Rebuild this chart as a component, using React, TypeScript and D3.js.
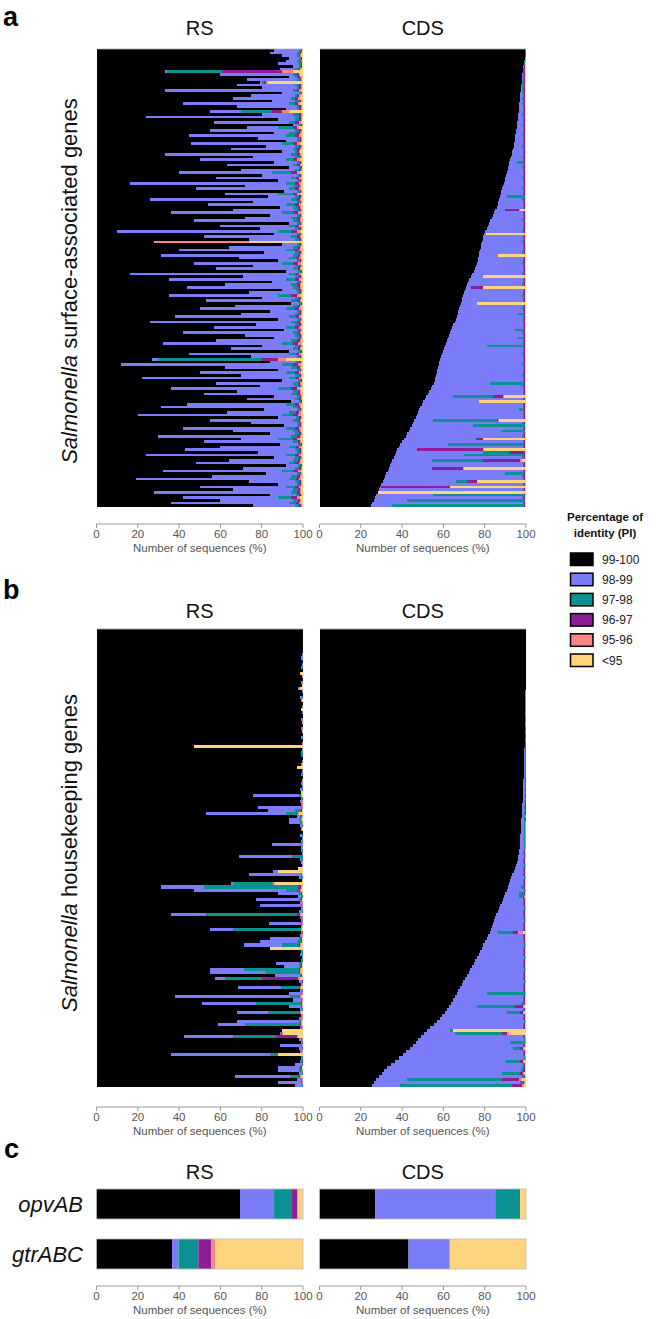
import React from 'react';
import * as d3 from 'd3';

// ---------- categories / colours ----------
const KEYS = ['99-100', '98-99', '97-98', '96-97', '95-96', '<95'];
const COLORS = ['#000000', '#7a7cf8', '#0b9191', '#8c1f95', '#f88484', '#fed47e'];
const TICKS = [0, 20, 40, 60, 80, 100];

// Each row: cumulative right edges (%) of 99-100, 98-99, 97-98, 96-97, 95-96; <95 fills to 100.
// Missing trailing values repeat the last one given.
const rsA: number[][] = [
  [86,98,99,99.5,99.7],[84,97,98.5,99,99.5],[90,97,98,98.5,99],[93,98,99,99.3,99.6],[92,97,98.5,99,99.4],
  [88,97.5,99,99.3,99.6],[95,98,99,99.3,99.6],[89,96,98,98.5,99],[33,34,61,90,95],[60,95,97,98,98.5],
  [93,96,97.5,98.5,99.5],[73,97,98.5,99,99.5],[79,80,81,82,83],[68,96,98,99,99.5],[80,97,98,99,99.5],
  [33,95,97,98,99],[90,98,99,99.5,99.7],[75,96,97,98,99],[66,94,96,97.5,98.5],[85,96,98,99,99.5],
  [42,93,96,97.5,98.5],[68,97,98,99,99.5],[92,97,98.5,99,99.5],[55,70,85,90,93],[80,95,98,99,99.5],
  [24,96,98,99,99.5],[88,96,98,99,99.5],[57,93,96,98,99],[95,98,99,99.5,99.8],[73,88,95,97,98],
  [55,96,98,99,99.5],[86,93,97,98.5,99],[45,92,96,98,99],[78,97,98.5,99,99.5],[92,97,98.5,99,99.5],
  [46,90,95,97,98.5],[82,96,98,99,99.4],[65,95,97,98.5,99],[90,96,97,98,98.5],[33,94,97,98.5,99],
  [76,96,98.5,99,99.5],[50,92,95,97,98.5],[86,97,98.5,99,99.5],[63,95,97,98.5,99.2],[93,98,99,99.4,99.7],
  [70,96,98,99,99.5],[40,85,94,97,98.5],[80,97,98.5,99,99.5],[58,94,96.5,98,99],[88,97,98.5,99.2,99.6],
  [16,92,96,98,99],[72,95,97.5,98.5,99.2],[48,93,96,98,99],[91,97,98.5,99,99.5],[62,88,95,97,98.5],
  [83,96,98,99,99.4],[26,94,97,98.5,99.2],[76,97,98.5,99,99.5],[54,92,96,98,99],[89,95,97.5,98.5,99.2],
  [66,96,98,99,99.5],[36,90,95,97.5,98.8],[84,97,98.5,99.2,99.6],[72,94,97,98.5,99.2],[47,95,97.5,98.5,99.2],
  [93,97,98.5,99,99.5],[60,93,96,98,99],[79,96,98,99,99.4],[10,88,94,97,98.5],[86,97,98.5,99.2,99.6],
  [52,94,97,98.5,99.2],[74,96,98,99,99.5],[28,28,28,28,74],[90,97,98.5,99,99.5],[64,95,97.5,98.5,99.2],
  [40,92,96,98,99],[81,96,98,99,99.5],[31,95,97.5,98.5,99.2],[69,93,96.5,98,99],[88,97,98.5,99.2,99.6],
  [47,90,95,97.5,98.8],[76,96,98,99,99.5],[58,95,97.5,98.5,99.2],[92,97.5,98.8,99.3,99.6],[16,93,96.5,98,99],
  [71,96,98,99,99.5],[35,92,96,98,99],[85,97,98.5,99.2,99.6],[62,94,97,98.5,99.2],[44,95,97.5,98.5,99.2],
  [90,96.5,98,99,99.5],[74,97,98.5,99.2,99.6],[35,88,94,97,98.5],[80,96,98,99,99.4],[53,94,97,98.5,99.2],
  [94,98,99,99.4,99.7],[67,95,97.5,98.5,99.2],[50,92,96,98,99],[84,97,98.5,99,99.5],[70,96,98,99,99.5],
  [38,93,96.5,98,99],[88,97,98.5,99.2,99.6],[26,94,97,98.5,99.2],[77,96,98,99,99.5],[57,92,96,98,99],
  [91,97,98.5,99.2,99.6],[42,95,97.5,98.5,99.2],[72,96,98,99,99.5],[86,97,98.5,99,99.5],[58,94,97,98.5,99.2],
  [32,90,95,97.5,98.8],[80,96,98,99,99.5],[65,95,97.5,98.5,99.2],[93,97.5,98.8,99.3,99.6],[45,93,96.5,98,99],
  [75,97,98.5,99.2,99.6],[27,30,80,88,92],[84,96,98,99,99.5],[12,90,95,97.5,98.8],[62,94,97,98.5,99.2],
  [88,97,98.5,99.2,99.6],[50,92,96,98,99],[70,96,98,99,99.5],[22,93,96.5,98,99],[90,97.5,98.8,99.3,99.6],
  [58,95,97.5,98.5,99.2],[79,96,98,99,99.5],[36,88,94,97,98.5],[68,95,97.5,98.5,99.2],[52,94,97,98.5,99.2],
  [86,97,98.5,99.2,99.6],[73,96,98,99,99.5],[94,98,99,99.4,99.7],[44,92,96,98,99],[31,95,97.5,98.5,99.2],
  [81,97,98.5,99,99.5],[63,93,96.5,98,99],[20,90,95,97.5,98.8],[88,96.5,98,99,99.5],[55,95,97.5,98.5,99.2],
  [75,97,98.5,99.2,99.6],[91,97,98.5,99,99.5],[42,92,96,98,99],[66,95,97.5,98.5,99.2],[84,96,98,99,99.5],
  [30,94,97,98.5,99.2],[70,88,95,97,98.5],[52,95,97.5,98.5,99.2],[89,97.5,98.8,99.3,99.6],[60,93,96.5,98,99],
  [43,96,98,99,99.5],[78,97,98.5,99.2,99.6],[24,92,96,98,99],[86,96,98,99,99.5],[64,95,97.5,98.5,99.2],
  [48,93,96,98,99],[92,97.5,98.8,99.3,99.6],[71,96,98,99,99.5],[32,90,95,97.5,98.8],[82,97,98.5,99.2,99.6],
  [56,94,97,98.5,99.2],[19,93,96.5,98,99],[74,96,98,99,99.5],[88,97,98.5,99,99.5],[50,92,96,98,99],
  [66,95,97.5,98.5,99.2],[28,94,97,98.5,99.2],[84,96.5,98,99,99.5],[42,88,94,97,98.5],[60,95,97.5,98.5,99.2],
  [36,93,96.5,98,99],[76,96,98,99,99.5],
];

const cdsA: number[][] = [
  [99.7,99.7,99.8,99.9,99.9],[99.6,99.6,99.7,99.8,99.9],[99.5,99.5,99.6,99.8,99.9],[99.3,99.3,99.5,99.7,99.8],[99.1,99.1,99.4,99.6,99.8],
  [98.9,98.9,99.3,99.5,99.7],[98.7,98.8,99.2,99.5,99.7],[98.6,98.7,99.1,99.4,99.6],[98.4,98.6,99.0,99.4,99.6],[98.3,98.5,99.1,99.4,99.6],
  [98.2,98.4,99.0,99.3,99.6],[98.1,98.4,99.1,99.4,99.7],[97.9,98.3,98.9,99.3,99.6],[97.8,98.3,99.0,99.4,99.6],[97.6,98.2,98.9,99.3,99.6],
  [97.5,98.3,99.0,99.4,99.7],[97.3,98.2,98.9,99.3,99.6],[97.2,98.4,99.1,99.4,99.6],[97.0,98.3,99.0,99.3,99.6],[96.9,98.4,99.0,99.4,99.7],
  [96.8,98.3,98.9,99.3,99.6],[96.6,98.5,99.1,99.4,99.6],[96.5,98.4,99.0,99.3,99.6],[96.4,98.5,99.1,99.4,99.7],[96.2,98.3,98.9,99.3,99.6],
  [96.1,98.6,99.1,99.4,99.6],[95.9,98.4,99.0,99.3,99.6],[95.7,98.5,99.1,99.4,99.7],[95.6,98.3,98.9,99.3,99.6],[95.4,98.6,99.1,99.4,99.6],
  [95.2,98.4,99.0,99.3,99.6],[95.1,98.5,99.1,99.4,99.7],[94.9,98.3,99.0,99.3,99.6],[94.8,98.6,99.1,99.4,99.6],[94.6,98.4,99.0,99.3,99.6],
  [94.3,98.5,99.1,99.4,99.7],[94.0,98.3,98.9,99.3,99.6],[93.7,98.6,99.1,99.4,99.6],[93.4,98.4,99.0,99.3,99.6],[93.0,98.5,99.1,99.4,99.7],
  [92.7,98.3,99.0,99.3,99.6],[92.4,98.6,99.1,99.4,99.6],[92.0,95.6,99.2,99.4,99.6],[91.7,98.5,99.1,99.4,99.7],[91.4,98.3,99.0,99.3,99.6],
  [91.1,98.6,99.1,99.4,99.6],[90.8,98.4,99.0,99.3,99.6],[90.4,98.5,99.1,99.4,99.7],[90.0,98.3,98.9,99.3,99.6],[89.6,98.6,99.1,99.4,99.6],
  [89.3,98.4,99.0,99.3,99.6],[88.9,98.5,99.1,99.4,99.7],[88.5,98.3,99.0,99.3,99.6],[88.1,98.6,99.1,99.4,99.6],[87.8,98.4,99.0,99.3,99.6],
  [87.4,90.8,99.3,99.5,99.7],[87.0,98.3,98.9,99.3,99.6],[86.6,98.6,99.1,99.4,99.6],[86.2,98.4,99.0,99.3,99.6],[85.8,98.5,99.1,99.4,99.7],
  [85.2,89.9,89.9,96.5,97.0],[84.6,98.6,99.1,99.4,99.6],[84.0,98.4,99.0,99.3,99.6],[83.4,98.5,99.1,99.4,99.7],[82.8,98.3,99.0,99.3,99.6],
  [82.2,98.6,99.1,99.4,99.6],[81.5,98.4,99.0,99.3,99.6],[80.9,98.5,99.1,99.4,99.7],[80.3,98.3,98.9,99.3,99.6],[79.8,80.7,80.7,80.7,80.7],
  [79.4,98.4,99.0,99.3,99.6],[79.0,98.5,99.1,99.4,99.7],[78.7,98.3,99.0,99.3,99.6],[78.3,98.6,99.1,99.4,99.6],[78.0,98.4,99.0,99.3,99.6],
  [77.7,98.5,99.1,99.4,99.7],[77.4,98.3,98.9,99.3,99.6],[77.1,86.5,86.5,86.5,86.5],[76.9,98.4,99.0,99.3,99.6],[76.6,98.5,99.1,99.4,99.7],
  [76.3,98.3,99.0,99.3,99.6],[76.0,98.6,99.1,99.4,99.6],[75.4,98.4,99.0,99.3,99.6],[74.7,98.5,99.1,99.4,99.7],[74.0,98.3,98.9,99.3,99.6],
  [73.3,79.2,79.2,79.2,79.2],[72.6,98.4,99.0,99.3,99.6],[71.8,98.5,99.1,99.4,99.7],[71.2,98.3,99.0,99.3,99.6],[70.8,73.4,73.4,79.2,79.2],
  [70.4,98.4,99.0,99.3,99.6],[70.0,98.5,99.1,99.4,99.7],[69.6,98.3,98.9,99.3,99.6],[69.2,98.6,99.1,99.4,99.6],[68.8,98.4,99.0,99.3,99.6],
  [68.4,76.3,76.3,76.3,76.3],[68.0,98.5,99.1,99.4,99.7],[67.6,98.3,99.0,99.3,99.6],[67.3,98.6,99.1,99.4,99.6],[66.9,96.0,99.0,99.3,99.6],
  [66.6,98.5,99.1,99.4,99.7],[66.0,98.3,98.9,99.3,99.6],[65.4,98.6,99.1,99.4,99.6],[64.8,98.4,99.0,99.3,99.6],[64.2,98.5,99.1,99.4,99.7],
  [63.6,94.7,99.0,99.3,99.6],[63.0,98.3,99.0,99.3,99.6],[62.5,98.6,99.1,99.4,99.6],[62.1,96.0,99.0,99.4,99.7],[61.6,98.5,99.1,99.4,99.7],
  [61.1,98.3,98.9,99.3,99.6],[60.6,81.0,99.2,99.5,99.7],[60.1,98.4,99.0,99.3,99.6],[59.7,98.5,99.1,99.4,99.7],[59.3,98.3,99.0,99.3,99.6],
  [58.9,98.6,99.1,99.4,99.6],[58.5,98.4,99.0,99.3,99.6],[58.1,98.5,99.1,99.4,99.7],[57.7,98.3,98.9,99.3,99.6],[57.4,98.6,99.1,99.4,99.6],
  [57.0,98.4,99.0,99.3,99.6],[56.7,98.5,99.1,99.4,99.7],[56.4,98.3,99.0,99.3,99.6],[56.1,98.6,99.1,99.4,99.6],[55.8,98.4,99.0,99.3,99.6],
  [55.4,82.6,99.1,99.4,99.7],[54.6,98.3,98.9,99.3,99.6],[53.8,98.6,99.1,99.4,99.6],[53.1,98.4,99.0,99.3,99.6],[52.4,98.5,99.1,99.4,99.7],
  [51.7,64.7,84.0,88.8,89.5],[51.0,98.6,99.1,99.4,99.6],[50.3,77.3,77.3,77.3,77.3],[49.6,98.4,99.0,99.3,99.6],[48.9,98.5,99.1,99.4,99.7],
  [48.2,96.5,99.0,99.3,99.6],[47.6,98.6,99.1,99.4,99.6],[47.1,98.4,99.0,99.3,99.6],[46.7,98.5,99.1,99.4,99.7],[46.0,55.0,86.0,86.5,87.0],
  [45.3,98.3,99.0,99.3,99.6],[44.7,74.4,99.3,99.5,99.7],[44.0,98.4,99.0,99.3,99.6],[43.3,88.0,99.3,99.5,99.7],[42.6,98.5,99.1,99.4,99.7],
  [41.7,98.3,98.9,99.3,99.6],[40.8,75.8,75.8,79.2,79.2],[39.9,98.6,99.1,99.4,99.6],[39.1,62.0,99.2,99.5,99.7],[38.3,98.4,99.0,99.3,99.6],
  [37.6,47.3,47.3,79.2,79.5],[37.0,79.2,92.0,99.4,99.7],[36.5,70.0,99.2,99.5,99.7],[35.9,98.3,99.0,99.3,99.6],[35.3,54.6,79.0,97.0,98.0],
  [34.8,98.6,99.1,99.4,99.6],[34.2,98.4,99.0,99.3,99.6],[33.6,54.6,54.6,69.6,70.0],[33.0,98.5,99.1,99.4,99.7],[32.4,90.0,99.2,99.5,99.7],
  [31.8,98.3,98.9,99.3,99.6],[31.2,98.6,99.1,99.4,99.6],[30.6,66.0,71.5,76.3,76.3],[30.0,98.4,99.0,99.3,99.6],[29.4,30.0,30.0,63.3,63.3],
  [28.8,98.5,99.1,99.4,99.7],[28.2,28.2,28.2,28.2,28.2],[27.6,55.0,99.2,99.5,99.7],[27.0,98.3,99.0,99.3,99.6],[26.3,42.5,99.3,99.5,99.7],
  [25.6,98.6,99.1,99.4,99.6],[25.0,35.0,99.0,99.4,99.7],
];

const rsB: number[][] = [
  [100],[100],[100],[100],[100],[100],[100],[100],[99.5,99.8],[99.2,99.8],
  [100],[99.5,100],[99,99.7,100],[100],[98.5,98.5],[99.5,99.7,99.7,99.7,100],[100],[99,99.8,100],[99.6,99.6],[97.4,98,98,98,98.5],
  [99.3,100],[100],[98.5,99.7,100],[99,99.5],[100],[99.3,100],[98.8,98.8],[99.5,100],[100],[99.2,99.8,100],
  [99.6,99.6,99.6,99.6,100],[100],[99,100],[99.5,99.5],[100],[99.2,99.7,100],[100],[99.4,99.4,99.4,99.4,100],[47,47,47,47,47],[99.5,100],
  [99,99.5,100],[98.8,99.2,100],[100],[99.3,100],[99,99.6],[97,97.2,97.2,97.2,97.2],[99.5,100],[99.2,99.6,100],[100],[99.4,99.4,99.4,99.4,100],
  [99,99.8,100],[99.5,100],[98.7,99.5,100],[99.2,99.2],[76,98,99,99,99.5],[99,99.6,100],[98.5,99.3,99.6,99.6,100],[99,99.3,99.3,99.3,100],[78,99,99.5,99.5,100],[83,96,99,99.3,99.6],
  [53,92,97.5,97.5,98],[97,98.5,99.5,99.5,100],[93,98,99,99,99.5],[93,98.5,99.5,99.5,100],[98.5,99.5,100],[99,99.7],[100],[98.5,99.5,99.8,99.8,100],[99.3,100],[99,99.7,100],
  [85,99,99.5,99.5,100],[99.2,99.8],[98.8,99.6,100],[99.5,100],[69,94.7,100],[98.5,99.2,100],[99,99.6,99.6,99.6,100],[99.5,100],[97.5,97.5],[85.5,88,88,88,88],
  [74,99,99.5,99.5,99.7],[98,99,100],[99.3,99.3],[65,66.7,85.5,85.5,86.5],[31,52,97.5,99,99.5],[47,92,97.5,98.5,99],[88,98,99,99.5,99.7],[97.5,99,100],[77,98,99,99.4,99.7],[98.5,99.5,99.5,99.5,100],
  [79,99,99.5,99.5,100],[99,99.8],[98,99.5,100],[36,53,97,98.5,99],[98.5,99,99.5,99.7,100],[99.2,100],[83.5,99,99.5,99.5,100],[98.8,99.5,99.5,99.5,99.5],[55,66,99,99,99.5],[99,99.7,100],
  [98.5,99.2,99.2,99.2,100],[84,98,99,99.5,99.7],[79,97,99,99.5,99.7],[71.5,90,98,98.5,99],[84,84,84,84,84],[99,99.6,100],[98.5,99.5,99.8,99.8,100],[99.3,100],[99,99.5,100],[87,98,99,99.5,99.7],
  [91,98,99.2,99.5,99.7],[55,71.5,98,98.5,99],[55,82,98,98.5,99],[86.5,98.5,99.2,99.5,99.7],[57.5,62,80,97.5,98.5],[98,99.3,99.6,99.8,100],[99,99.5,99.5,99.5,100],[68.6,89.5,98,98.5,99],[98.5,99.3,100],[93,99,99.5,99.5,100],
  [38,93.7,98,98.5,99],[95,99,99.5,99.5,100],[51,77,99,99.3,99.6],[93,99,99.5,99.5,100],[98.5,99.5,100],[68,83,98,98.5,99],[99,99.5,99.5,99.7,100],[98,99.3,99.6,99.6,100],[68,98,99,99,99.5],[59,72,98.5,99,99.5],
  [98.5,99,99.5,99.5,100],[90,90,90,90,90],[89,89.5,89.5,90,90.5],[42.5,66,87,97,97.5],[98,99,99.5,99.5,100],[99,99.6,100],[89,99,99.5,99.5,100],[98,99.5,100],[98.5,99.3,99.6,99.6,100],[36,84,88,88,88],
  [99,99.5,100],[98.5,99.2,99.6,99.8,100],[96,99.5,100],[88,98,99,99.3,99.6],[88,98,99.3,99.6,100],[98,99.3,100],[67,93.7,98,98.5,99],[97,99,99.6,99.6,100],[88,99,99.5,99.5,100],[96,99.5,100],
];

const cdsB: number[][] = [
  [100],[100],[100],[100],[100],[100],[100],[100],[100],[100],
  [100],[100],[100],[100],[100],[99.9,100],[99.9,100],[99.8,100],[99.8,99.9,100],[99.8,100],
  [99.7,99.9,100],[99.7,100],[99.7,99.8,99.9,100],[99.7,100],[99.7,99.8,99.9,99.9,100],[99.6,99.8,100],[99.6,100],[99.6,99.8,99.9,100],[99.5,99.8,100],[99.5,99.7,99.9,99.9,100],
  [99.5,99.8,100],[99.4,99.8,99.9,100],[99.4,99.7,99.9,99.9,99.9],[99.4,99.8,100],[99.4,99.7,99.9,100],[99.3,99.7,99.9,99.9,99.9],[99.3,99.8,100],[99.3,99.6,99.8,100],[99.3,99.7,99.9,99.9,99.9],[99.2,99.7,100],
  [99.2,99.6,99.8,99.9,100],[99.1,99.6,99.9,99.9,99.9],[99.1,99.7,100],[99.0,99.5,99.8,99.9,100],[99.0,99.6,99.9,99.9,99.9],[98.9,99.5,99.8,100],[98.9,99.6,99.9,99.9,100],[98.8,99.5,99.8,99.9,99.9],[98.8,99.5,99.9,100],[98.7,99.4,99.7,99.9,100],
  [98.7,99.5,99.8,99.9,99.9],[98.7,99.4,99.8,99.9,100],[98.6,99.4,99.7,99.8,99.9],[98.6,99.5,99.8,99.9,100],[98.5,99.3,99.7,99.8,99.9],[98.5,99.4,99.8,99.9,100],[98.4,99.3,99.7,99.8,99.9],[98.3,99.3,99.6,99.8,99.9],[98.2,99.2,99.6,99.8,99.9],[98.1,99.3,99.7,99.8,99.9],
  [98.0,99.2,99.6,99.8,99.9],[97.9,99.1,99.5,99.7,99.8],[97.8,99.2,99.6,99.8,99.9],[97.7,99.1,99.5,99.7,99.8],[97.6,99.0,99.4,99.7,99.8],[97.5,99.1,99.5,99.7,99.8],[97.4,99.0,99.4,99.6,99.8],[97.3,98.9,99.4,99.7,99.8],[97.2,99.0,99.4,99.6,99.8],[97.1,98.9,99.3,99.6,99.8],
  [97.0,98.8,99.3,99.6,99.8],[96.9,98.9,99.3,99.6,99.8],[96.7,98.8,99.2,99.5,99.7],[96.5,98.6,99.2,99.5,99.7],[96.2,98.8,99.3,99.6,99.8],[95.9,98.7,99.2,99.5,99.7],[95.6,98.5,99.2,99.5,99.7],[95.2,98.8,99.3,99.6,99.8],[94.6,98.6,99.2,99.5,99.7],[94.0,98.7,99.2,99.5,99.7],
  [93.4,98.5,99.1,99.4,99.7],[92.8,98.8,99.3,99.6,99.8],[92.3,98.6,99.2,99.5,99.7],[91.8,98.7,99.2,99.5,99.7],[91.2,97.5,99.1,99.4,99.7],[90.6,98.8,99.3,99.6,99.8],[90.0,96.5,98.8,99.3,99.6],[89.5,96.8,98.5,99.0,99.5],[89.0,98.6,99.2,99.5,99.7],[88.3,98.7,99.2,99.5,99.7],
  [87.6,98.5,99.1,99.4,99.7],[87.0,98.8,99.3,99.6,99.8],[86.3,98.6,99.2,99.5,99.7],[85.6,98.7,99.2,99.5,99.7],[85.0,98.5,99.1,99.4,99.7],[84.5,98.8,99.3,99.6,99.8],[84.0,98.6,99.2,99.5,99.7],[83.5,98.7,99.2,99.5,99.7],[83.0,98.5,99.1,99.4,99.7],[82.5,86.5,93.7,96.0,98.5],
  [81.7,98.6,99.2,99.5,99.7],[80.9,98.7,99.2,99.5,99.7],[80.1,98.5,99.1,99.4,99.7],[79.3,98.8,99.3,99.6,99.8],[78.5,98.6,99.2,99.5,99.7],[77.8,98.7,99.2,99.5,99.7],[77.0,98.5,99.1,99.4,99.7],[76.2,98.8,99.3,99.6,99.8],[75.4,98.6,99.2,99.5,99.7],[74.6,98.7,99.2,99.5,99.7],
  [73.8,98.5,99.1,99.4,99.7],[73.0,98.8,99.3,99.6,99.8],[72.2,98.6,99.2,99.5,99.7],[71.4,98.7,99.2,99.5,99.7],[70.6,98.5,99.1,99.4,99.7],[69.7,98.8,99.3,99.6,99.8],[68.9,98.6,99.2,99.5,99.7],[68.1,98.7,99.2,99.5,99.7],[67.3,98.5,99.1,99.4,99.7],[66.5,81.0,99.5,99.7,99.8],
  [65.6,98.6,99.2,99.5,99.7],[64.8,98.7,99.2,99.5,99.7],[63.8,97.5,99.1,99.4,99.7],[62.7,76.3,94.7,98.6,99.0],[61.7,98.6,99.2,99.5,99.7],[60.6,90.8,97.0,98.5,99.0],[59.5,98.7,99.2,99.5,99.7],[58.5,98.5,99.1,99.4,99.7],[56.9,98.8,99.3,99.6,99.8],[55.3,98.6,99.2,99.5,99.7],
  [53.7,98.7,99.2,99.5,99.7],[52.0,63.0,64.7,64.7,64.7],[50.4,65.7,88.3,90.7,92.0],[49.1,98.5,99.1,99.4,99.7],[47.8,98.8,99.3,99.6,99.8],[46.5,92.3,99.5,99.7,99.8],[45.2,98.6,99.2,99.5,99.7],[44.0,93.5,97.0,98.5,99.0],[42.1,98.7,99.2,99.5,99.7],[40.2,98.5,99.1,99.4,99.7],
  [38.3,98.8,99.3,99.6,99.8],[36.5,90.3,97.0,98.6,99.0],[34.6,98.6,99.2,99.5,99.7],[32.7,98.0,98.8,99.4,99.7],[31.4,97.5,98.6,99.3,99.7],[30.1,88.3,97.0,98.5,99.0],[28.8,98.0,98.8,99.4,99.7],[27.5,42.5,88.3,96.6,98.0],[26.2,97.0,98.5,99.2,99.6],[25.3,39.0,93.2,98.0,98.8],
];

const cGenes = ['opvAB', 'gtrABC'];
const cRS: number[][] = [[69.5, 86, 94.7, 97.3, 97.6], [36.6, 39.7, 49.3, 55.6, 57.5]];
const cCDS: number[][] = [[26.9, 85.1, 97.1, 97.1, 97.1], [43.1, 63.1, 63.1, 63.1, 63.1]];

// ---------- helpers ----------
const FONT = "'Liberation Sans', Arial, Helvetica, sans-serif";

function toSegments(row: number[]): Record<string, number> {
  const ends = row.slice();
  while (ends.length < 5) ends.push(ends[ends.length - 1]);
  ends.push(100);
  const seg: Record<string, number> = {};
  let prev = 0;
  KEYS.forEach((k, i) => {
    const e = Math.max(prev, ends[i]);
    seg[k] = e - prev;
    prev = e;
  });
  return seg;
}

const xRS = d3.scaleLinear().domain([0, 100]).range([96.5, 303]);
const xCDS = d3.scaleLinear().domain([0, 100]).range([319.5, 526]);

function Stacked({ rows, x, y, crisp }: any) {
  const series = d3.stack<any>().keys(KEYS)(rows.map(toSegments));
  const h = y.bandwidth();
  return (
    <g shapeRendering={crisp ? 'crispEdges' : undefined}>
      {series.map((s, si) => (
        <g key={si} fill={COLORS[si]}>
          {s.map((d, i) =>
            d[1] - d[0] > 0 ? (
              <rect key={i} x={x(d[0])} y={y(i)} width={x(d[1]) - x(d[0])} height={h} />
            ) : null
          )}
        </g>
      ))}
    </g>
  );
}

function Axis({ x, y }: any) {
  const [r0, r1] = x.range();
  return (
    <g fontFamily={FONT}>
      <line x1={r0} x2={r1} y1={y} y2={y} stroke="#999" strokeWidth={1} />
      {TICKS.map((t) => (
        <g key={t}>
          <line x1={x(t)} x2={x(t)} y1={y} y2={y + 4} stroke="#999" strokeWidth={1} />
          <text x={x(t)} y={y + 14} textAnchor="middle" fontSize={11.5} fill="#555">{t}</text>
        </g>
      ))}
      <text x={(r0 + r1) / 2} y={y + 28} textAnchor="middle" fontSize={11.5} fill="#555">Number of sequences (%)</text>
    </g>
  );
}

function Titles({ y }: any) {
  return (
    <g fontFamily={FONT} fontSize={20} fill="#111" textAnchor="middle">
      <text x={(xRS(0) + xRS(100)) / 2} y={y}>RS</text>
      <text x={(xCDS(0) + xCDS(100)) / 2} y={y}>CDS</text>
    </g>
  );
}

export default function App() {
  const yA = d3.scaleBand<number>().domain(d3.range(rsA.length)).range([49, 507]);
  const yB = d3.scaleBand<number>().domain(d3.range(rsB.length)).range([629, 1087]);
  const yC = d3.scaleBand<string>().domain(cGenes).range([1189, 1269]).paddingInner(0.4).paddingOuter(0);

  return (
    <svg width={661} height={1319} style={{ position: 'absolute', left: 0, top: 0, background: '#fff' }}>
      <rect width={661} height={1319} fill="#fff" />
      {/* panel labels */}
      <g fontFamily={FONT} fontWeight="bold" fontSize={27} fill="#000">
        <text x={3} y={26}>a</text>
        <text x={3} y={599}>b</text>
        <text x={4} y={1158}>c</text>
      </g>

      {/* Panel a */}
      <Titles y={35} />
      <text transform="translate(77,281) rotate(-90)" textAnchor="middle" fontFamily={FONT} fontSize={22} fill="#111">
        <tspan fontStyle="italic">Salmonella</tspan> surface-associated genes
      </text>
      <Stacked rows={rsA} x={xRS} y={yA} crisp />
      <Stacked rows={cdsA} x={xCDS} y={yA} crisp />
      <line x1={xRS(0)} x2={xRS(100)} y1={49} y2={49} stroke="#aaa" strokeWidth={0.8} />
      <line x1={xCDS(0)} x2={xCDS(100)} y1={49} y2={49} stroke="#aaa" strokeWidth={0.8} />
      <Axis x={xRS} y={524} />
      <Axis x={xCDS} y={524} />

      {/* Panel b */}
      <Titles y={618} />
      <text transform="translate(77,853) rotate(-90)" textAnchor="middle" fontFamily={FONT} fontSize={22} fill="#111">
        <tspan fontStyle="italic">Salmonella</tspan> housekeeping genes
      </text>
      <Stacked rows={rsB} x={xRS} y={yB} crisp />
      <Stacked rows={cdsB} x={xCDS} y={yB} crisp />
      <line x1={xRS(0)} x2={xRS(100)} y1={629} y2={629} stroke="#aaa" strokeWidth={0.8} />
      <line x1={xCDS(0)} x2={xCDS(100)} y1={629} y2={629} stroke="#aaa" strokeWidth={0.8} />
      <Axis x={xRS} y={1107} />
      <Axis x={xCDS} y={1107} />

      {/* Panel c */}
      <Titles y={1179} />
      <g fontFamily={FONT} fontStyle="italic" fontSize={22} fill="#111" textAnchor="end">
        {cGenes.map((g) => (
          <text key={g} x={83} y={(yC(g) as number) + yC.bandwidth() / 2 + 8}>{g}</text>
        ))}
      </g>
      {[{ rows: cRS, x: xRS }, { rows: cCDS, x: xCDS }].map((p, pi) => {
        const series = d3.stack<any>().keys(KEYS)(p.rows.map(toSegments));
        return (
          <g key={pi}>
            {series.map((s, si) => (
              <g key={si} fill={COLORS[si]}>
                {s.map((d, i) =>
                  d[1] - d[0] > 0 ? (
                    <rect key={i} x={p.x(d[0])} y={yC(cGenes[i])} width={p.x(d[1]) - p.x(d[0])} height={yC.bandwidth()} />
                  ) : null
                )}
              </g>
            ))}
            {cGenes.map((g) => (
              <rect key={g} x={p.x(0)} y={yC(g)} width={p.x(100) - p.x(0)} height={yC.bandwidth()} fill="none" stroke="#bbb" strokeWidth={0.8} />
            ))}
          </g>
        );
      })}
      <Axis x={xRS} y={1286} />
      <Axis x={xCDS} y={1286} />

      {/* Legend */}
      <g fontFamily={FONT}>
        <text x={605} y={521} textAnchor="middle" fontSize={11.5} fontWeight="bold" fill="#111">Percentage of</text>
        <text x={605} y={537} textAnchor="middle" fontSize={11.5} fontWeight="bold" fill="#111">identity (PI)</text>
        {KEYS.map((k, i) => (
          <g key={k}>
            <rect x={570.5} y={553 + i * 20.2} width={22.5} height={12.5} fill={COLORS[i]} stroke="#000" strokeWidth={1.5} />
            <text x={602} y={563.5 + i * 20.2} fontSize={12} fill="#222">{k}</text>
          </g>
        ))}
      </g>
    </svg>
  );
}
